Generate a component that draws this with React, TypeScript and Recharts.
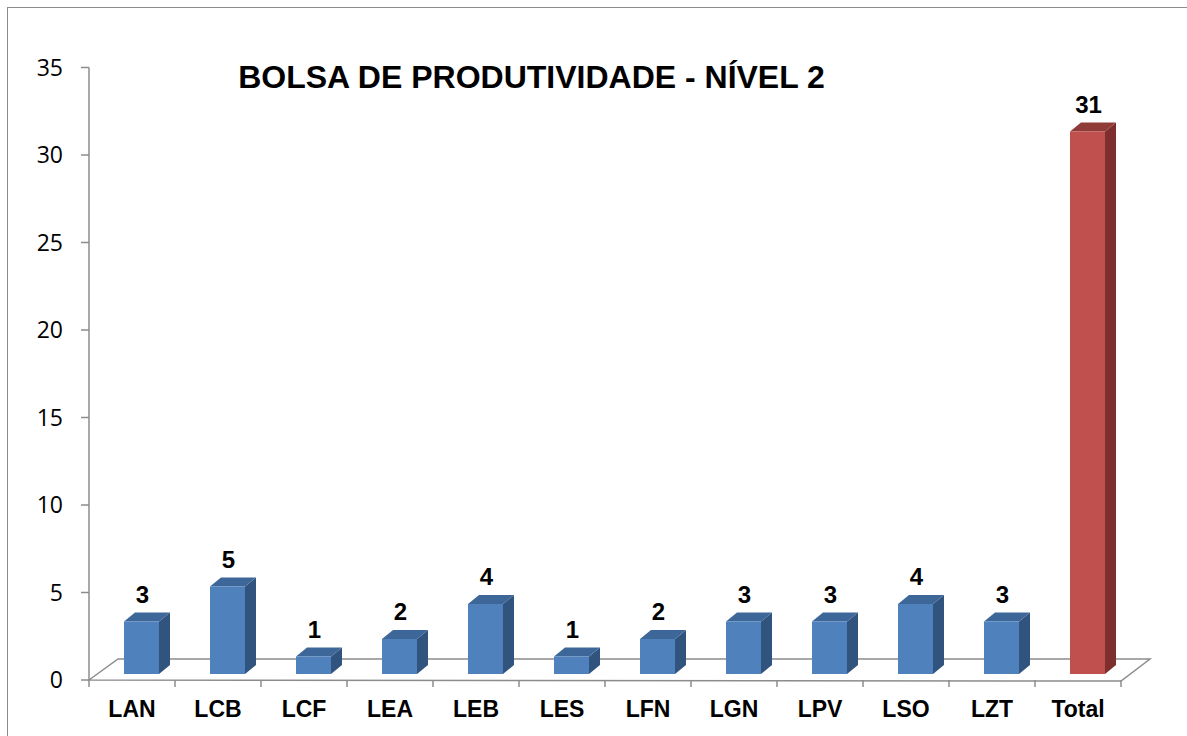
import { BarChart, Bar, XAxis, YAxis, Cell, LabelList, ReferenceArea } from "recharts";

const categories = ["LAN", "LCB", "LCF", "LEA", "LEB", "LES", "LFN", "LGN", "LPV", "LSO", "LZT", "Total"];
const counts = [3, 5, 1, 2, 4, 1, 2, 3, 3, 4, 3, 31];
const yTicks = [0, 5, 10, 15, 20, 25, 30, 35];

const data = categories.map((name, i) => ({ name, value: counts[i] }));

const BLUE = "#4f81bd";
const RED = "#c0504d";
const shades: Record<string, { side: string; top: string }> = {
  [BLUE]: { side: "#31547f", top: "#3d6699" },
  [RED]: { side: "#7e2f2d", top: "#8f3b38" },
};

// bar face sits halfway into the floor depth
const FACE_DX = 9;
const FACE_DY = -6;
const DEPTH_X = 11;
const DEPTH_Y = 9;

function Bar3D(props: any) {
  const { x, y, width, height, fill } = props;
  if (!height || height <= 0) return null;
  const x0 = x + FACE_DX;
  const y0 = y + FACE_DY;
  const s = shades[fill] || shades[BLUE];
  return (
    <g>
      <polygon
        points={`${x0 + width},${y0} ${x0 + width + DEPTH_X},${y0 - DEPTH_Y} ${x0 + width + DEPTH_X},${y0 + height - DEPTH_Y} ${x0 + width},${y0 + height}`}
        fill={s.side}
      />
      <polygon
        points={`${x0},${y0} ${x0 + DEPTH_X},${y0 - DEPTH_Y} ${x0 + width + DEPTH_X},${y0 - DEPTH_Y} ${x0 + width},${y0}`}
        fill={s.top}
      />
      <rect x={x0} y={y0} width={width} height={height} fill={fill} />
    </g>
  );
}

function Floor(props: any) {
  const { x, y, width, height } = props;
  const bottom = y + height;
  const right = x + width;
  const dx = 29;
  const dy = 21;
  const step = width / categories.length;
  const ticks = [];
  for (let i = 0; i <= categories.length; i++) {
    ticks.push(
      <line key={i} x1={x + i * step} y1={bottom} x2={x + i * step} y2={bottom + 7} stroke="#8c8c8c" strokeWidth={1.5} />
    );
  }
  return (
    <g>
      <polygon
        points={`${x},${bottom} ${x + dx},${bottom - dy} ${right + dx},${bottom - dy} ${right},${bottom + 1}`}
        fill="none"
        stroke="#8c8c8c"
        strokeWidth={1.5}
      />
      {ticks}
    </g>
  );
}

function ValueLabel(props: any) {
  const { x, y, width, value } = props;
  return (
    <text
      x={x + width / 2 + FACE_DX + 1}
      y={y + FACE_DY - 19}
      textAnchor="middle"
      fontFamily="Liberation Sans, Arial, sans-serif"
      fontWeight="bold"
      fontSize={24}
      fill="#000"
    >
      {value}
    </text>
  );
}

export default function App() {
  return (
    <div style={{ position: "fixed", left: 0, top: 0, width: 1187, height: 736, overflow: "hidden", background: "#fff" }}>
      <div
        style={{
          position: "absolute",
          left: 7,
          top: 7,
          width: 1300,
          height: 900,
          border: "1.5px solid #8c8c8c",
          boxSizing: "border-box",
        }}
      />
      <div
        style={{
          position: "absolute",
          left: 0,
          top: 59,
          width: 1063,
          textAlign: "center",
          fontFamily: "Liberation Sans, Arial, sans-serif",
          fontWeight: "bold",
          fontSize: 32,
          lineHeight: "37px",
          color: "#000",
        }}
      >
        BOLSA DE PRODUTIVIDADE - NÍVEL 2
      </div>
      <div style={{ position: "absolute", left: 0, top: 0 }}>
        <BarChart
          width={1187}
          height={736}
          data={data}
          margin={{ top: 67.5, right: 66, left: 0, bottom: 0 }}
          barCategoryGap={0}
        >
          <ReferenceArea
            x1="LAN"
            x2="Total"
            y1={0}
            y2={35}
            shape={<Floor />}
            ifOverflow="visible"
          />
          <YAxis
            domain={[0, 35]}
            ticks={yTicks}
            width={89}
            interval={0}
            axisLine={{ stroke: "#8c8c8c", strokeWidth: 1.5 }}
            tickLine={{ stroke: "#8c8c8c", strokeWidth: 1.5 }}
            tickSize={8}
            tickMargin={18}
            tick={{ fill: "#000", fontSize: 23, fontFamily: "Open Sans, sans-serif" }}
          />
          <XAxis
            dataKey="name"
            height={56}
            interval={0}
            axisLine={false}
            tickLine={false}
            tickSize={0}
            tickMargin={21}
            tick={{ fill: "#000", fontSize: 23, fontWeight: "bold", fontFamily: "Liberation Sans, Arial, sans-serif" }}
          />
          <Bar dataKey="value" barSize={35} shape={<Bar3D />} isAnimationActive={false}>
            {data.map((d) => (
              <Cell key={d.name} fill={d.name === "Total" ? RED : BLUE} />
            ))}
            <LabelList dataKey="value" content={<ValueLabel />} />
          </Bar>
        </BarChart>
      </div>
    </div>
  );
}
